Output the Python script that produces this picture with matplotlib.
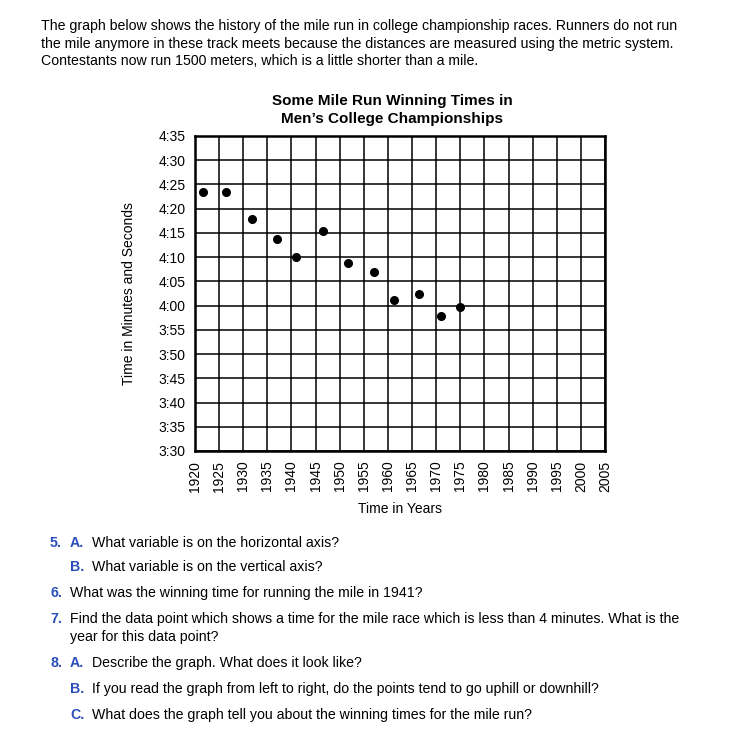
import matplotlib
matplotlib.use("Agg")
import matplotlib.pyplot as plt

# data: year and winning time in seconds
years = [1921.6, 1926.4, 1931.8, 1937.1, 1941, 1946.5, 1951.7, 1957.1, 1961.2, 1966.5, 1971.1, 1975]
times = [263.4, 263.4, 257.9, 253.75, 250, 255.3, 248.8, 247, 241.2, 242.4, 237.9, 239.8]

year_ticks = list(range(1920, 2006, 5))
time_ticks = list(range(210, 276, 5))
time_labels = [f"{t // 60}:{t % 60:02d}" for t in time_ticks]

intro = ("The graph below shows the history of the mile run in college championship races. Runners do not run\n"
         "the mile anymore in these track meets because the distances are measured using the metric system.\n"
         "Contestants now run 1500 meters, which is a little shorter than a mile.")

questions = [
    ("5.", "A.", "What variable is on the horizontal axis?", 543),
    (None, "B.", "What variable is on the vertical axis?", 567),
    ("6.", None, "What was the winning time for running the mile in 1941?", 593),
    ("7.", None, "Find the data point which shows a time for the mile race which is less than 4 minutes. What is the", 619),
    (None, None, "year for this data point?", 637),
    ("8.", "A.", "Describe the graph. What does it look like?", 663),
    (None, "B.", "If you read the graph from left to right, do the points tend to go uphill or downhill?", 689),
    (None, "C.", "What does the graph tell you about the winning times for the mile run?", 715),
]

plt.rcParams['font.family'] = ['Liberation Sans', 'DejaVu Sans']
W, H = 751, 740
fig = plt.figure(figsize=(W / 100, H / 100), dpi=100)
ax = fig.add_axes([195 / W, 1 - 451 / H, 410 / W, 315 / H])

ax.plot(years, times, 'o', color='black', ms=5.5)
ax.set_xlim(1920, 2005)
ax.set_ylim(210, 275)
ax.set_xticks(year_ticks)
ax.set_xticklabels([str(y) for y in year_ticks], rotation=90, fontsize=10)
ax.set_yticks(time_ticks)
ax.set_yticklabels(time_labels, fontsize=10)
ax.tick_params(length=0, pad=7)
ax.grid(True, color='black', lw=1.1)
for s in ax.spines.values():
    s.set_linewidth(1.8)
ax.set_xlabel("Time in Years", fontsize=10, labelpad=7)
ax.set_ylabel("Time in Minutes and Seconds", fontsize=10, labelpad=16)

fig.text(392 / W, 1 - 110 / H, "Some Mile Run Winning Times in\nMen\u2019s College Championships",
         ha='center', va='center', fontsize=11, fontweight='bold', linespacing=1.4)

fig.text(41 / W, 1 - 19 / H, intro, ha='left', va='top', fontsize=10.15, linespacing=1.32)

blue = '#2b4fb8'
fs = 10.15
for num, sub, txt, y in questions:
    yy = 1 - y / H
    if num:
        fig.text(50 / W, yy, num, color=blue, fontweight='bold', fontsize=fs, va='center')
    if sub:
        fig.text(70 / W, yy, sub, color=blue, fontweight='bold', fontsize=fs, va='center')
        fig.text(92 / W, yy, txt, fontsize=fs, va='center')
    else:
        fig.text(70 / W, yy, txt, fontsize=fs, va='center')

fig.savefig("out.png", dpi=100)
